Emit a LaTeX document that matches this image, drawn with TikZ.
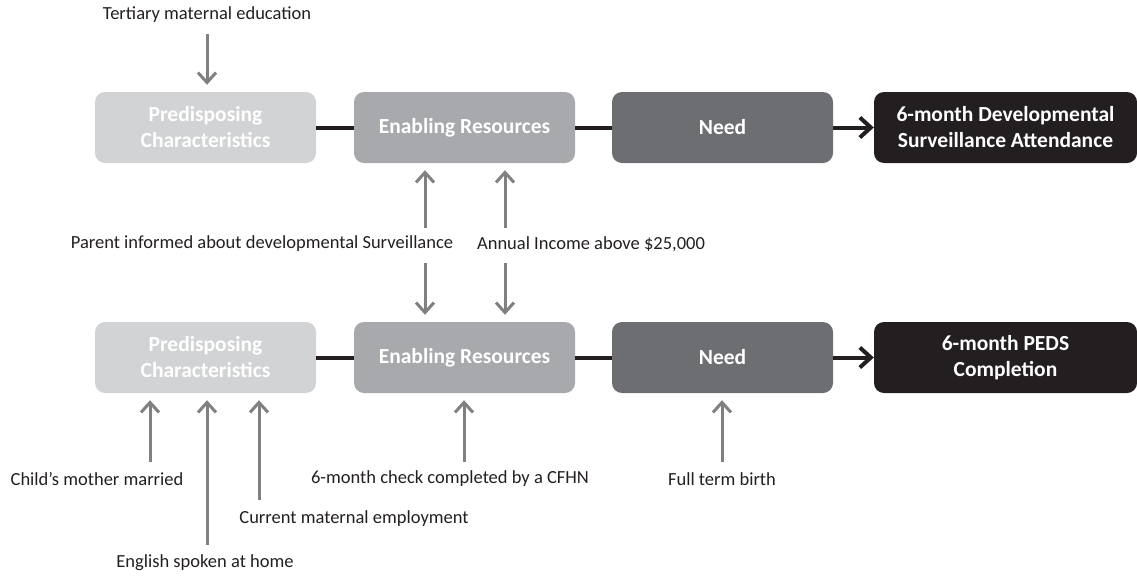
\documentclass[tikz,border=0pt]{standalone}
\usepackage{fontspec}
\setmainfont{Carlito}
\usetikzlibrary{arrows.meta,positioning}
\definecolor{predcol}{HTML}{D1D3D4}
\definecolor{enabcol}{HTML}{A7A9AC}
\definecolor{needcol}{HTML}{6D6E71}
\definecolor{outcol}{HTML}{231F20}
\definecolor{arrcol}{HTML}{808080}
\definecolor{txtcol}{HTML}{231F20}
\begin{document}
\begin{tikzpicture}[x=1pt,y=-1pt,
    stage/.style ={rounded corners=10pt, minimum width=221pt, minimum height=71pt, inner sep=0pt,
      text=white, align=center, font=\fontsize{21.5}{26}\selectfont\bfseries},
    factor/.style ={inner sep=0pt, text=txtcol, font=\fontsize{18.5}{21}\selectfont},
    link/.style ={line width=4pt, outcol},
    flow/.style ={link, -{Straight Barb[length=11pt, width=20pt]}},
    influence/.style ={line width=3pt, arrcol, shorten >=7pt, -{Straight Barb[length=10pt, width=18pt]}}]
   \useasboundingbox (0,0) rectangle (1137,576);
   % first model
   \node[stage, fill=predcol] (pred1)  at (205.5,127.5)  {Predisposing\\Characteristics};
   \node[stage, fill=enabcol] (enab1)  at (464.5,127.5)  {Enabling Resources};
   \node[stage, fill=needcol] (need1)  at (722.5,127.5)  {Need};
   \node[stage, fill=outcol, minimum width=263pt] (out1)  at (1005.5,127.5)  {6-month Developmental\\Surveillance Attendance};
   \draw[link] (pred1) -- (enab1);
   \draw[link] (enab1) -- (need1);
   \draw[flow] (need1) -- (out1);
   % second model
   \node[stage, fill=predcol] (pred2)  at (205.5,357.5)  {Predisposing\\Characteristics};
   \node[stage, fill=enabcol] (enab2)  at (464.5,357.5)  {Enabling Resources};
   \node[stage, fill=needcol] (need2)  at (722.5,357.5)  {Need};
   \node[stage, fill=outcol, minimum width=263pt] (out2)  at (1005.5,357.5)  {6-month PEDS\\Completion};
   \draw[link] (pred2) -- (enab2);
   \draw[link] (enab2) -- (need2);
   \draw[flow] (need2) -- (out2);
   % factors
   \node[factor] (tert)  at (207,15)  {Tertiary maternal education};
   \node[factor] (inform)  at (262,244)  {Parent informed about developmental Surveillance};
   \node[factor] (income)  at (591,244)  {Annual Income above \$25,000};
   \node[factor] (married)  at (97,479)  {Child’s mother married};
   \node[factor] (english)  at (205,563)  {English spoken at home};
   \node[factor] (employ)  at (354,519)  {Current maternal employment};
   \node[factor] (check)  at (450,479)  {6-month check completed by a CFHN};
   \node[factor] (fullterm)  at (722,479)  {Full term birth};
   \coordinate (terttail)  at (207,34);
   \coordinate (informup)  at (425,228);
   \coordinate (informdown)  at (425,263);
   \coordinate (incomeup)  at (505,228);
   \coordinate (incomedown)  at (505,263);
   \coordinate (marriedtail)  at (150,462);
   \coordinate (englishtail)  at (207,545);
   \coordinate (employtail)  at (259,500);
   \coordinate (checktail)  at (464,462);
   \coordinate (fulltermtail)  at (722,462);
   \draw[influence] (terttail) -- (terttail |- pred1.north);
   \draw[influence] (informup) -- (informup |- enab1.south);
   \draw[influence] (incomeup) -- (incomeup |- enab1.south);
   \draw[influence] (informdown) -- (informdown |- enab2.north);
   \draw[influence] (incomedown) -- (incomedown |- enab2.north);
   \draw[influence] (marriedtail) -- (marriedtail |- pred2.south);
   \draw[influence] (englishtail) -- (englishtail |- pred2.south);
   \draw[influence] (employtail) -- (employtail |- pred2.south);
   \draw[influence] (checktail) -- (checktail |- enab2.south);
   \draw[influence] (fulltermtail) -- (fulltermtail |- need2.south);
\end{tikzpicture}
\end{document}
